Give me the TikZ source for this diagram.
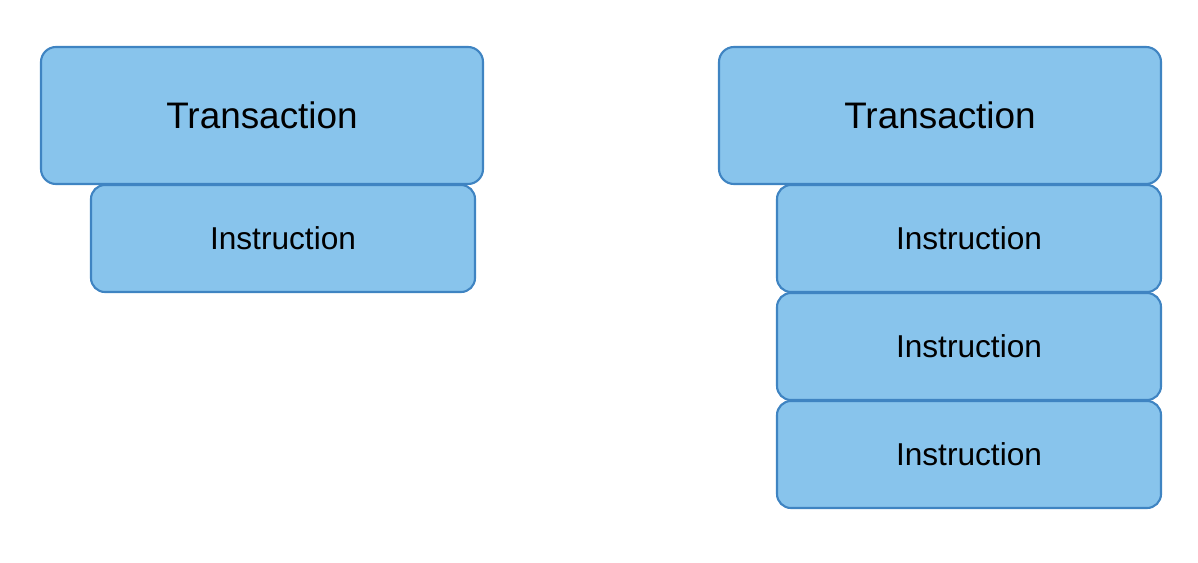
\documentclass[tikz,border=0pt]{standalone}
\usepackage{fontspec}
\setmainfont{Liberation Sans}
\definecolor{boxfill}{HTML}{88C4EC}
\definecolor{boxline}{HTML}{3F84C2}
\begin{document}
\begin{tikzpicture}[txbox/.style={rectangle,rounded corners=0.15cm,draw=boxline,fill=boxfill,line width=0.6pt,minimum width=4.42cm,minimum height=1.37cm,inner sep=0,font=\fontsize{10.5}{12}\selectfont},
	insbox/.style={rectangle,rounded corners=0.14cm,draw=boxline,fill=boxfill,line width=0.6pt,minimum width=3.84cm,minimum height=1.07cm,inner sep=0,font=\fontsize{9}{11}\selectfont}]
	\useasboundingbox (0,0) rectangle (11.98,5.62);
	% one instruction
	\node [txbox] (txa) at (2.62,4.465) {Transaction};
	\node [insbox] (insa) at (2.83,3.235) {Instruction};
	% several instructions
	\node [txbox] (txb) at (9.40,4.465) {Transaction};
	\foreach \y [count=\i] in {3.235,2.155,1.075}
		\node [insbox] (insb\i) at (9.69,\y) {Instruction};
\end{tikzpicture}
\end{document}
